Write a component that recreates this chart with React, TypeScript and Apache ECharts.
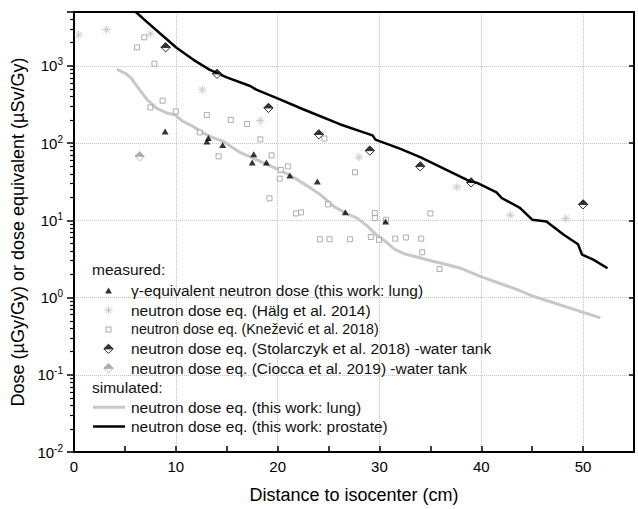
import React, { useEffect, useRef } from "react";
import * as echarts from "echarts";

const FONT = "'Liberation Sans', Arial, Helvetica, sans-serif";

// ---- data ----
const xLabelValues = [0, 10, 20, 30, 40, 50];

const gammaLung: [number, number][] = [
  [8.95, 142], [13.05, 105], [13.2, 117], [14.6, 95], [17.5, 56], [17.65, 72],
  [18.9, 56], [21.2, 38], [23.9, 32], [26.65, 12.7], [30.6, 9.7],
];

const halg: [number, number][] = [
  [0.45, 2520], [3.2, 2950], [7.5, 2600], [12.6, 490], [18.3, 196], [28.0, 66],
  [37.6, 27], [42.85, 11.7], [48.3, 10.6],
];

const knezevic: [number, number][] = [
  [6.2, 1740], [6.9, 2350], [7.9, 1070], [7.5, 291], [8.7, 355], [10.0, 258],
  [12.35, 138], [13.05, 232], [14.2, 67.5], [15.4, 200], [17.0, 177], [18.3, 112],
  [19.2, 19.3], [19.4, 69.5], [20.2, 34.7], [20.3, 45], [21.0, 50], [21.8, 12.3],
  [22.3, 12.7], [24.15, 5.7], [24.6, 115], [24.95, 16.1], [25.1, 5.7], [27.1, 5.7],
  [27.6, 42], [29.15, 6.1], [29.55, 12.5], [29.55, 10.7], [29.95, 5.6], [30.65, 10.2],
  [31.55, 5.8], [32.6, 6.0], [34.1, 5.8], [34.2, 3.86], [35.0, 12.3], [35.9, 2.35],
];

const stolarczyk: [number, number][] = [
  [9.0, 1740], [14.05, 790], [19.1, 286], [24.05, 130], [29.05, 80], [34.0, 50],
  [39.0, 31], [50.0, 16.1],
];

const ciocca: [number, number][] = [[6.45, 67.5]];

const simLung: [number, number][] = [
  [4.2, 900], [5.0, 810], [5.6, 700], [6.5, 480], [7.2, 365], [8.1, 285], [9.1, 246],
  [9.9, 234], [10.7, 191], [11.7, 165], [12.7, 135], [13.7, 117], [14.7, 105],
  [15.6, 87], [16.3, 76], [17.6, 64], [18.9, 53], [20.2, 45], [21.5, 36.5], [22.9, 28],
  [24.2, 21.5], [25.5, 15.2], [26.8, 12.2], [27.8, 10.7], [28.8, 8.5], [29.7, 6.5],
  [30.7, 5.2], [31.5, 4.2], [32.4, 3.7], [33.7, 3.35], [35.0, 3.0], [36.0, 2.8],
  [37.9, 2.42], [39.9, 1.88], [41.9, 1.51], [43.5, 1.28], [45.1, 1.04], [51.7, 0.545],
];

const simProstate: [number, number][] = [
  [6.07, 5000], [7.1, 3780], [8.4, 2670], [10.1, 1710], [11.7, 1210], [13.3, 895],
  [15.0, 711], [17.3, 550], [17.9, 493], [20.1, 374], [22.5, 275], [26.1, 176],
  [29.1, 129], [29.35, 125], [29.6, 111], [32.0, 85], [34.0, 66], [38.9, 32],
  [39.6, 30.5], [41.5, 23], [42.0, 19.5], [43.8, 14.5], [45.0, 10.2], [46.4, 9.7],
  [48.1, 6.5], [49.5, 4.9], [49.9, 3.6], [51.0, 3.1], [52.4, 2.4],
];

const N_GAMMA = "γ-equivalent neutron dose (this work: lung)";
const N_HALG = "neutron dose eq. (Hälg et al. 2014)";
const N_KNEZ = "neutron dose eq. (Knežević et al. 2018)";
const N_STOL = "neutron dose eq. (Stolarczyk et al. 2018) -water tank";
const N_CIOC = "neutron dose eq. (Ciocca et al. 2019) -water tank";
const N_LUNG = "neutron dose eq. (this work: lung)";
const N_PROS = "neutron dose eq. (this work: prostate)";

// ---- symbol images ----
const svgImg = (w: number, h: number, body: string) =>
  "image://data:image/svg+xml;charset=utf-8," +
  encodeURIComponent(
    `<svg xmlns='http://www.w3.org/2000/svg' width='${w}' height='${h}' viewBox='0 0 ${w} ${h}'>${body}</svg>`
  );

const asteriskBody = (cx: number, cy: number, r: number, col: string) => {
  const d = r * 0.707;
  return `<g stroke='${col}' stroke-width='1' fill='none'>` +
    `<line x1='${cx}' y1='${cy - r}' x2='${cx}' y2='${cy + r}'/>` +
    `<line x1='${cx - r}' y1='${cy}' x2='${cx + r}' y2='${cy}'/>` +
    `<line x1='${cx - d}' y1='${cy - d}' x2='${cx + d}' y2='${cy + d}'/>` +
    `<line x1='${cx - d}' y1='${cy + d}' x2='${cx + d}' y2='${cy - d}'/></g>`;
};

const halfDiamondBody = (cx: number, cy: number, r: number, top: string, edge: string) =>
  `<path d='M${cx},${cy - r} L${cx + r},${cy} L${cx},${cy + r} L${cx - r},${cy} Z' fill='white' stroke='${edge}' stroke-width='1'/>` +
  `<path d='M${cx},${cy - r} L${cx + r},${cy} L${cx - r},${cy} Z' fill='${top}' stroke='${top}' stroke-width='1'/>`;

const HALG_COL = "#bdbdbd";
const KNEZ_COL = "#9a9a9a";
const LUNG_COL = "#c8c8c8";

const symAsterisk = svgImg(10, 10, asteriskBody(5, 5, 4.2, HALG_COL));
const symStol = svgImg(11, 11, halfDiamondBody(5.5, 5.5, 4.6, "#000", "#000"));
const symCioc = svgImg(11, 11, halfDiamondBody(5.5, 5.5, 4.6, "#9a9a9a", "#a8a8a8"));

// legend icons: drawn in a 19.4 x 19.4 box (itemHeight), shapes kept at their real pixel size
const IH = 19.4;
const C = IH / 2;
const icTri = svgImg(IH, IH, `<path d='M${C},${C - 3.2} L${C + 3.4},${C + 2.8} L${C - 3.4},${C + 2.8} Z' fill='#000'/>`);
const icAst = svgImg(IH, IH, asteriskBody(C, C, 4.2, HALG_COL));
const icSq = svgImg(IH, IH, `<rect x='${C - 2.5}' y='${C - 2.5}' width='5' height='5' fill='white' stroke='${KNEZ_COL}' stroke-width='1'/>`);
const icStol = svgImg(IH, IH, halfDiamondBody(C, C, 4.6, "#000", "#000"));
const icCioc = svgImg(IH, IH, halfDiamondBody(C, C, 4.6, "#9a9a9a", "#a8a8a8"));
const icLung = svgImg(35, IH, `<line x1='2' y1='${C}' x2='34' y2='${C}' stroke='${LUNG_COL}' stroke-width='3'/>`);
const icPros = svgImg(35, IH, `<line x1='2' y1='${C}' x2='34' y2='${C}' stroke='#000' stroke-width='2.5'/>`);

export default function App() {
  const ref = useRef<HTMLDivElement>(null);

  useEffect(() => {
    if (!ref.current) return;
    const chart = echarts.init(ref.current, undefined, { renderer: "svg" });

    const axisLineStyle = { color: "#000", width: 2 };
    const gridLineStyle = { color: "#c4c4c4", type: "dotted" as const, width: 1 };

    const yFormatter = (v: number) => {
      const e = Math.round(Math.log10(v));
      if (Math.abs(v - Math.pow(10, e)) / v > 1e-6) return "";
      return `{b|10}{s|${e}}`;
    };

    const legendText = { fontSize: 15.5, color: "#111", fontFamily: FONT };

    const option: any = {
      animation: false,
      backgroundColor: "#ffffff",
      textStyle: { fontFamily: FONT },
      grid: { left: 74, right: 4, top: 12, bottom: 57, containLabel: false, outerBoundsMode: "none" },
      xAxis: [
        {
          type: "value", position: "bottom", min: 0, max: 55, interval: 5,
          axisLine: { show: true, onZero: false, lineStyle: axisLineStyle },
          axisTick: { show: true, inside: true, length: 6, lineStyle: { color: "#000", width: 1.5 } },
          axisLabel: {
            margin: 7, fontSize: 15, color: "#000", fontFamily: FONT,
            formatter: (v: number) => (xLabelValues.indexOf(v) >= 0 ? String(v) : ""),
          },
          splitLine: { show: false },
          name: "Distance to isocenter (cm)", nameLocation: "middle", nameGap: 34,
          nameTextStyle: { fontSize: 18, color: "#000", fontFamily: FONT },
        },
        {
          type: "value", position: "top", min: 0, max: 55, interval: 10,
          axisLine: { show: true, onZero: false, lineStyle: axisLineStyle },
          axisTick: { show: false }, axisLabel: { show: false },
          splitLine: { show: true, lineStyle: gridLineStyle },
        },
      ],
      yAxis: [
        {
          type: "log", logBase: 10, min: 0.01, max: 5000, position: "left",
          axisLine: { show: true, onZero: false, lineStyle: axisLineStyle },
          axisTick: { show: true, inside: false, length: 7, lineStyle: { color: "#000", width: 1.5 } },
          minorTick: { show: true, splitNumber: 9, length: 4, lineStyle: { color: "#000", width: 1.2 } },
          axisLabel: {
            margin: 11, color: "#000", formatter: yFormatter,
            rich: {
              b: { fontSize: 15, fontFamily: FONT, color: "#000", lineHeight: 18 },
              s: { fontSize: 10, fontFamily: FONT, color: "#000", lineHeight: 10, verticalAlign: "top" },
            },
          },
          splitLine: { show: true, lineStyle: gridLineStyle },
          name: "Dose (µGy/Gy) or dose equivalent (µSv/Gy)", nameLocation: "middle", nameGap: 44,
          nameTextStyle: { fontSize: 18, color: "#000", fontFamily: FONT },
        },
        {
          type: "log", logBase: 10, min: 0.01, max: 5000, position: "right",
          axisLine: { show: true, onZero: false, lineStyle: axisLineStyle },
          axisTick: { show: true, inside: true, length: 5, lineStyle: { color: "#000", width: 1.5 } },
          axisLabel: { show: false }, splitLine: { show: false },
        },
      ],
      legend: [
        {
          orient: "vertical", left: 91, top: 281, padding: 0, itemWidth: 35, itemHeight: IH,
          itemGap: 0, selectedMode: false,
          textStyle: legendText,
          data: [
            { name: N_GAMMA, icon: icTri },
            { name: N_HALG, icon: icAst },
            { name: N_KNEZ, icon: icSq, textStyle: { ...legendText, fontSize: 14.2 } },
            { name: N_STOL, icon: icStol },
            { name: N_CIOC, icon: icCioc },
          ],
        },
        {
          orient: "vertical", left: 91, top: 397.5, padding: 0, itemWidth: 35, itemHeight: IH,
          itemGap: 0, selectedMode: false, symbolKeepAspect: false,
          textStyle: legendText,
          data: [
            { name: N_LUNG, icon: icLung },
            { name: N_PROS, icon: icPros },
          ],
        },
      ],
      graphic: [
        { type: "text", left: 92, top: 261.5, style: { text: "measured:", fontSize: 15.5, fill: "#111", fontFamily: FONT } },
        { type: "text", left: 92, top: 379, style: { text: "simulated:", fontSize: 15.5, fill: "#111", fontFamily: FONT } },
      ],
      series: [
        {
          name: N_LUNG, type: "line", data: simLung, symbol: "none", showSymbol: false,
          lineStyle: { color: LUNG_COL, width: 3 }, itemStyle: { color: LUNG_COL }, z: 2,
        },
        {
          name: N_PROS, type: "line", data: simProstate, symbol: "none", showSymbol: false,
          lineStyle: { color: "#000", width: 2.5 }, itemStyle: { color: "#000" }, z: 2,
        },
        {
          name: N_HALG, type: "scatter", data: halg, symbol: symAsterisk, symbolSize: 10, z: 3,
          itemStyle: { color: HALG_COL },
        },
        {
          name: N_KNEZ, type: "scatter", data: knezevic, symbol: "rect", symbolSize: 5, z: 3,
          itemStyle: { color: "#ffffff", borderColor: KNEZ_COL, borderWidth: 1 },
        },
        {
          name: N_CIOC, type: "scatter", data: ciocca, symbol: symCioc, symbolSize: 11, z: 4,
          itemStyle: { color: "#9a9a9a" },
        },
        {
          name: N_GAMMA, type: "scatter", data: gammaLung, symbol: "triangle", symbolSize: [7, 6], z: 4,
          itemStyle: { color: "#000" },
        },
        {
          name: N_STOL, type: "scatter", data: stolarczyk, symbol: symStol, symbolSize: 11, z: 5,
          itemStyle: { color: "#000" },
        },
      ],
    };

    chart.setOption(option);
    return () => chart.dispose();
  }, []);

  return (
    <div
      ref={ref}
      style={{ position: "fixed", left: 0, top: 0, width: 638, height: 509, background: "#fff" }}
    />
  );
}
